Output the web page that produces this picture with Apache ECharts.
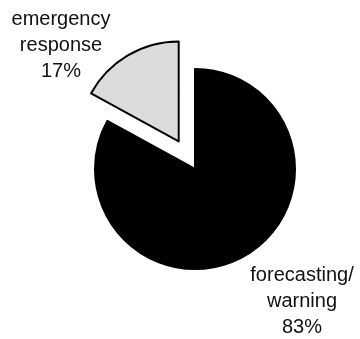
<!DOCTYPE html>
<html>
<head>
<meta charset="utf-8">
<script src="https://cdn.jsdelivr.net/npm/echarts@6/dist/echarts.min.js"></script>
<style>
  html, body { margin: 0; padding: 0; background: #fff; }
  #container { width: 360px; height: 339px; }
</style>
</head>
<body>
<div id="container"></div>
<script>
var categories = ['forecasting/\nwarning', 'emergency\nresponse'];
var values = [83, 17];
var sliceColors = ['#000000', 'pattern'];

// small dotted fill for the light slice
function makeDots() {
    var c = document.createElement('canvas');
    c.width = 2;
    c.height = 2;
    var ctx = c.getContext('2d');
    ctx.fillStyle = '#f4f4f4';
    ctx.fillRect(0, 0, 2, 2);
    ctx.fillStyle = '#c4c4c4';
    ctx.fillRect(0, 0, 1, 1);
    ctx.fillRect(1, 1, 1, 1);
    return c;
}

var dom = document.getElementById('container');
var myChart = echarts.init(dom, null, { renderer: 'canvas' });

var dots = makeDots();
var labelPos = [[302, 301], [61, 45]];

var pieBase = {
    type: 'pie',
    center: [195, 169],
    radius: 100,
    startAngle: 90,
    clockwise: true,
    percentPrecision: 0,
    avoidLabelOverlap: false,
    emphasis: { disabled: true }
};

var option = {
    animation: false,
    series: [
        // the slices, with the small one pulled out
        Object.assign({}, pieBase, {
            selectedMode: 'single',
            selectedOffset: 32,
            label: { show: false },
            labelLine: { show: false },
            data: categories.map(function (name, i) {
                return {
                    name: name,
                    value: values[i],
                    selected: i === 1,
                    itemStyle: {
                        color: sliceColors[i] === 'pattern' ? { image: dots, repeat: 'repeat' } : sliceColors[i],
                        borderColor: '#000',
                        borderWidth: 2
                    }
                };
            })
        }),
        // labels only (a selected slice keeps its own label spot, so they live here)
        Object.assign({}, pieBase, {
            silent: true,
            selectedMode: false,
            itemStyle: { color: 'rgba(0,0,0,0)', borderWidth: 0 },
            label: {
                show: true,
                position: 'outside',
                formatter: '{b}\n{d}%',
                fontFamily: 'Liberation Sans, Arial, sans-serif',
                fontSize: 20,
                lineHeight: 26,
                color: '#111',
                align: 'center',
                overflow: 'none'
            },
            labelLine: { show: false },
            labelLayout: function (params) {
                var p = labelPos[params.dataIndex];
                return { x: p[0], y: p[1], align: 'center', verticalAlign: 'middle' };
            },
            data: categories.map(function (name, i) {
                return { name: name, value: values[i] };
            })
        })
    ]
};

myChart.setOption(option);
window.addEventListener('resize', myChart.resize);
</script>
</body>
</html>
